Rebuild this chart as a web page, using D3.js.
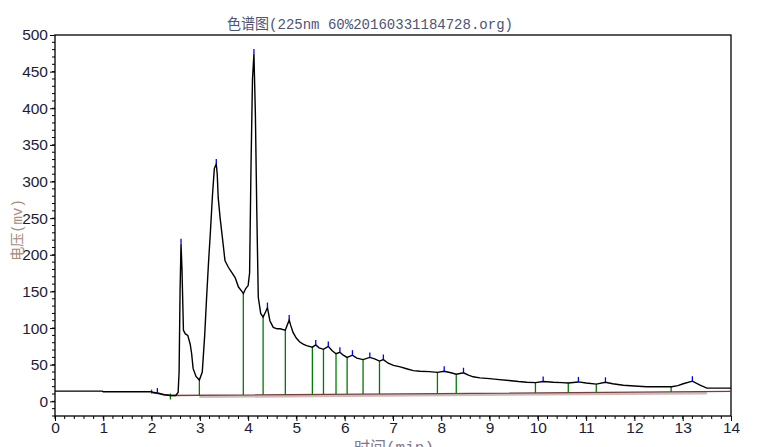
<!DOCTYPE html>
<html>
<head>
<meta charset="utf-8">
<script src="https://cdn.jsdelivr.net/npm/d3@7"></script>
<style>
  body { margin: 0; background: #fff; }
  .tick-label { font-family: "Liberation Sans", Arial, sans-serif; font-size: 15.5px; fill: #1c1c38; }
</style>
</head>
<body>
<svg id="chart" width="761" height="447"></svg>
<script>
// chromatogram trace, time (min) and signal (mV)
var times = [0, 0.98, 1.0, 2.0, 2.05, 2.15, 2.25, 2.4, 2.5, 2.55, 2.57, 2.59, 2.61, 2.63, 2.66, 2.7, 2.75, 2.8, 2.83, 2.86,
  2.92, 2.99, 3.05, 3.1, 3.14, 3.18, 3.22, 3.26, 3.3, 3.34, 3.36, 3.38, 3.42, 3.45, 3.49, 3.52, 3.59, 3.66, 3.73, 3.8,
  3.87, 3.9, 3.95, 4.0, 4.03, 4.06, 4.09, 4.12, 4.15, 4.18, 4.21, 4.26, 4.31, 4.36, 4.4, 4.45, 4.52, 4.6, 4.66, 4.77,
  4.82, 4.85, 4.88, 4.93, 5.0, 5.07, 5.14, 5.21, 5.33, 5.4, 5.47, 5.56, 5.66, 5.74, 5.82, 5.9, 5.97, 6.05, 6.16, 6.25,
  6.38, 6.52, 6.62, 6.72, 6.8, 6.9, 7.01, 7.15, 7.28, 7.42, 7.56, 7.75, 7.92, 8.06, 8.2, 8.31, 8.46, 8.55, 8.66, 8.8,
  9.0, 9.15, 9.4, 9.6, 9.77, 9.95, 10.11, 10.32, 10.5, 10.63, 10.84, 11.0, 11.21, 11.4, 11.55, 11.77, 12.0, 12.25, 12.5, 12.77,
  12.9, 13.01, 13.2, 13.36, 13.5, 13.7, 14];
var signal = [14, 14, 13, 13, 12, 11, 9, 8, 8, 12, 40, 150, 215, 180, 97, 92, 90, 78, 65, 45,
  34, 29, 40, 90, 142, 190, 233, 280, 318, 324, 310, 278, 250, 233, 210, 192, 183, 176, 169, 156,
  150, 147, 154, 158, 175, 324, 440, 474, 392, 256, 142, 120, 115, 122, 128, 110, 101, 99, 99, 97,
  106, 111, 104, 94, 86, 81, 78, 76, 74, 77, 73, 71, 75, 69, 65, 67, 63, 60, 63, 59,
  57, 60, 58, 55, 57, 52, 49, 47, 44.5, 42, 41, 40.5, 39.5, 41, 39, 37, 39, 36, 33.5, 32,
  31, 30, 28.5, 27, 26, 25.5, 27, 26, 25.5, 25, 26.5, 25, 23.5, 26, 24, 22, 21, 20, 20, 20,
  21.5, 24, 27.5, 22, 18, 18, 18];

// integration baseline
var baseTimes = [2.0, 2.39, 14];
var baseValues = [12, 8, 13.5];

// peak boundaries (drop lines), apex markers, start markers
var dropTimes = [2.99, 3.9, 4.31, 4.77, 5.33, 5.56, 5.82, 6.05, 6.38, 6.72, 7.92, 8.31, 9.95, 10.63, 11.21, 12.76];
var apexTimes = [2.12, 2.61, 3.34, 4.12, 4.4, 4.85, 5.4, 5.66, 5.9, 6.16, 6.52, 6.8, 8.06, 8.46, 10.11, 10.84, 11.4, 13.2];
var startTimes = [2.0, 2.39];

var xTicks = d3.range(0, 15);
var yTicks = d3.range(0, 501, 50);

var title = "色谱图(225nm 60%20160331184728.org)";
var xTitle = "时间(min)";
var yTitle = "电压(mv)";

var svg = d3.select("#chart");
var padLeft = 55, padRight = 731, padTop = 35, padBottom = 416;

var x = d3.scaleLinear().domain([0, 14]).range([padLeft, padRight]);
var y = d3.scaleLinear().domain([-20, 500]).range([padBottom, padTop]);

var trace = times.map(function(t, i) { return [t, signal[i]]; });
var base = baseTimes.map(function(t, i) { return [t, baseValues[i]]; });

function valueAt(pts, t) {
    var i = d3.bisector(function(d) { return d[0]; }).left(pts, t);
    if (i <= 0) return pts[0][1];
    if (i >= pts.length) return pts[pts.length - 1][1];
    var a = pts[i - 1], b = pts[i];
    return a[1] + (b[1] - a[1]) * (t - a[0]) / (b[0] - a[0]);
}

// axes
var xAxis = d3.axisBottom(x).tickValues(xTicks).tickSize(5).tickPadding(1).tickFormat(d3.format("d"));
var yAxis = d3.axisLeft(y).tickValues(yTicks).tickSize(5).tickPadding(2).tickFormat(d3.format("d"));

var gx = svg.append("g").attr("transform", "translate(0," + padBottom + ")").call(xAxis);
var gy = svg.append("g").attr("transform", "translate(" + padLeft + ",0)").call(yAxis);
[gx, gy].forEach(function(g) {
    g.select(".domain").remove();
    g.selectAll(".tick line").attr("stroke", "#000");
    g.selectAll(".tick text").attr("class", "tick-label").attr("fill", null);
});

// minor ticks
svg.append("g").selectAll("line")
    .data(d3.range(0, 70).map(function(i) { return i * 0.2; }))
    .enter().append("line")
    .attr("x1", function(d) { return x(d); }).attr("x2", function(d) { return x(d); })
    .attr("y1", padBottom).attr("y2", padBottom + 3).attr("stroke", "#000");
svg.append("g").selectAll("line")
    .data(d3.range(-20, 500, 10))
    .enter().append("line")
    .attr("y1", function(d) { return y(d); }).attr("y2", function(d) { return y(d); })
    .attr("x1", padLeft).attr("x2", padLeft - 3).attr("stroke", "#000");

// frame
svg.append("rect")
    .attr("x", padLeft).attr("y", padTop)
    .attr("width", padRight - padLeft).attr("height", padBottom - padTop)
    .attr("fill", "none").attr("stroke", "#000").attr("stroke-width", 1.3);

var line = d3.line().x(function(d) { return x(d[0]); }).y(function(d) { return y(d[1]); });

// baseline, with the light per-peak band under it
svg.append("path")
    .datum([[2.99, valueAt(base, 2.99)], [13.5, valueAt(base, 13.5)]])
    .attr("d", line).attr("fill", "none")
    .attr("stroke", "#cdbcbc").attr("stroke-width", 2.5)
    .attr("transform", "translate(0,1.5)");
svg.append("path")
    .datum(base)
    .attr("d", line).attr("fill", "none")
    .attr("stroke", "#7d3c3c").attr("stroke-width", 1.3);

// drop lines
svg.append("g").selectAll("line")
    .data(dropTimes)
    .enter().append("line")
    .attr("x1", function(d) { return x(d); }).attr("x2", function(d) { return x(d); })
    .attr("y1", function(d) { return y(valueAt(trace, d)); })
    .attr("y2", function(d) { return y(valueAt(base, d)); })
    .attr("stroke", "#007a00").attr("stroke-width", 1.3);

svg.append("g").selectAll("line")
    .data(startTimes)
    .enter().append("line")
    .attr("x1", function(d) { return x(d); }).attr("x2", function(d) { return x(d); })
    .attr("y1", function(d, i) { return y(valueAt(base, d)) - (i == 0 ? 3 : 2); })
    .attr("y2", function(d, i) { return y(valueAt(base, d)) + (i == 0 ? 1 : 4); })
    .attr("stroke", "#007a00").attr("stroke-width", 1.3);

// trace
svg.append("path")
    .datum(trace)
    .attr("d", line).attr("fill", "none")
    .attr("stroke", "#000").attr("stroke-width", 1.4);

// apex markers
svg.append("g").selectAll("line")
    .data(apexTimes)
    .enter().append("line")
    .attr("x1", function(d) { return x(d); }).attr("x2", function(d) { return x(d); })
    .attr("y1", function(d) { return y(valueAt(trace, d)) - 5; })
    .attr("y2", function(d) { return y(valueAt(trace, d)); })
    .attr("stroke", "#0000ff").attr("stroke-width", 1.3);

// titles
svg.append("text")
    .attr("x", 370).attr("y", 29)
    .attr("text-anchor", "middle")
    .attr("textLength", 286).attr("lengthAdjust", "spacingAndGlyphs")
    .style("font-family", "'Liberation Mono', 'Noto Sans CJK SC', monospace")
    .style("font-size", "15px").attr("fill", "#4c5478")
    .text(title);

svg.append("text")
    .attr("x", 394).attr("y", 453)
    .attr("text-anchor", "middle")
    .style("font-family", "'Liberation Mono', 'Noto Sans CJK SC', monospace")
    .style("font-size", "16px").attr("fill", "#7c7890")
    .text(xTitle);

svg.append("text")
    .attr("transform", "translate(17,230) rotate(-90)")
    .attr("text-anchor", "middle")
    .attr("dy", "0.35em")
    .style("font-family", "'Liberation Mono', 'Noto Sans CJK SC', monospace")
    .style("font-size", "14px").attr("fill", "#a48c7c")
    .text(yTitle);
</script>
</body>
</html>
